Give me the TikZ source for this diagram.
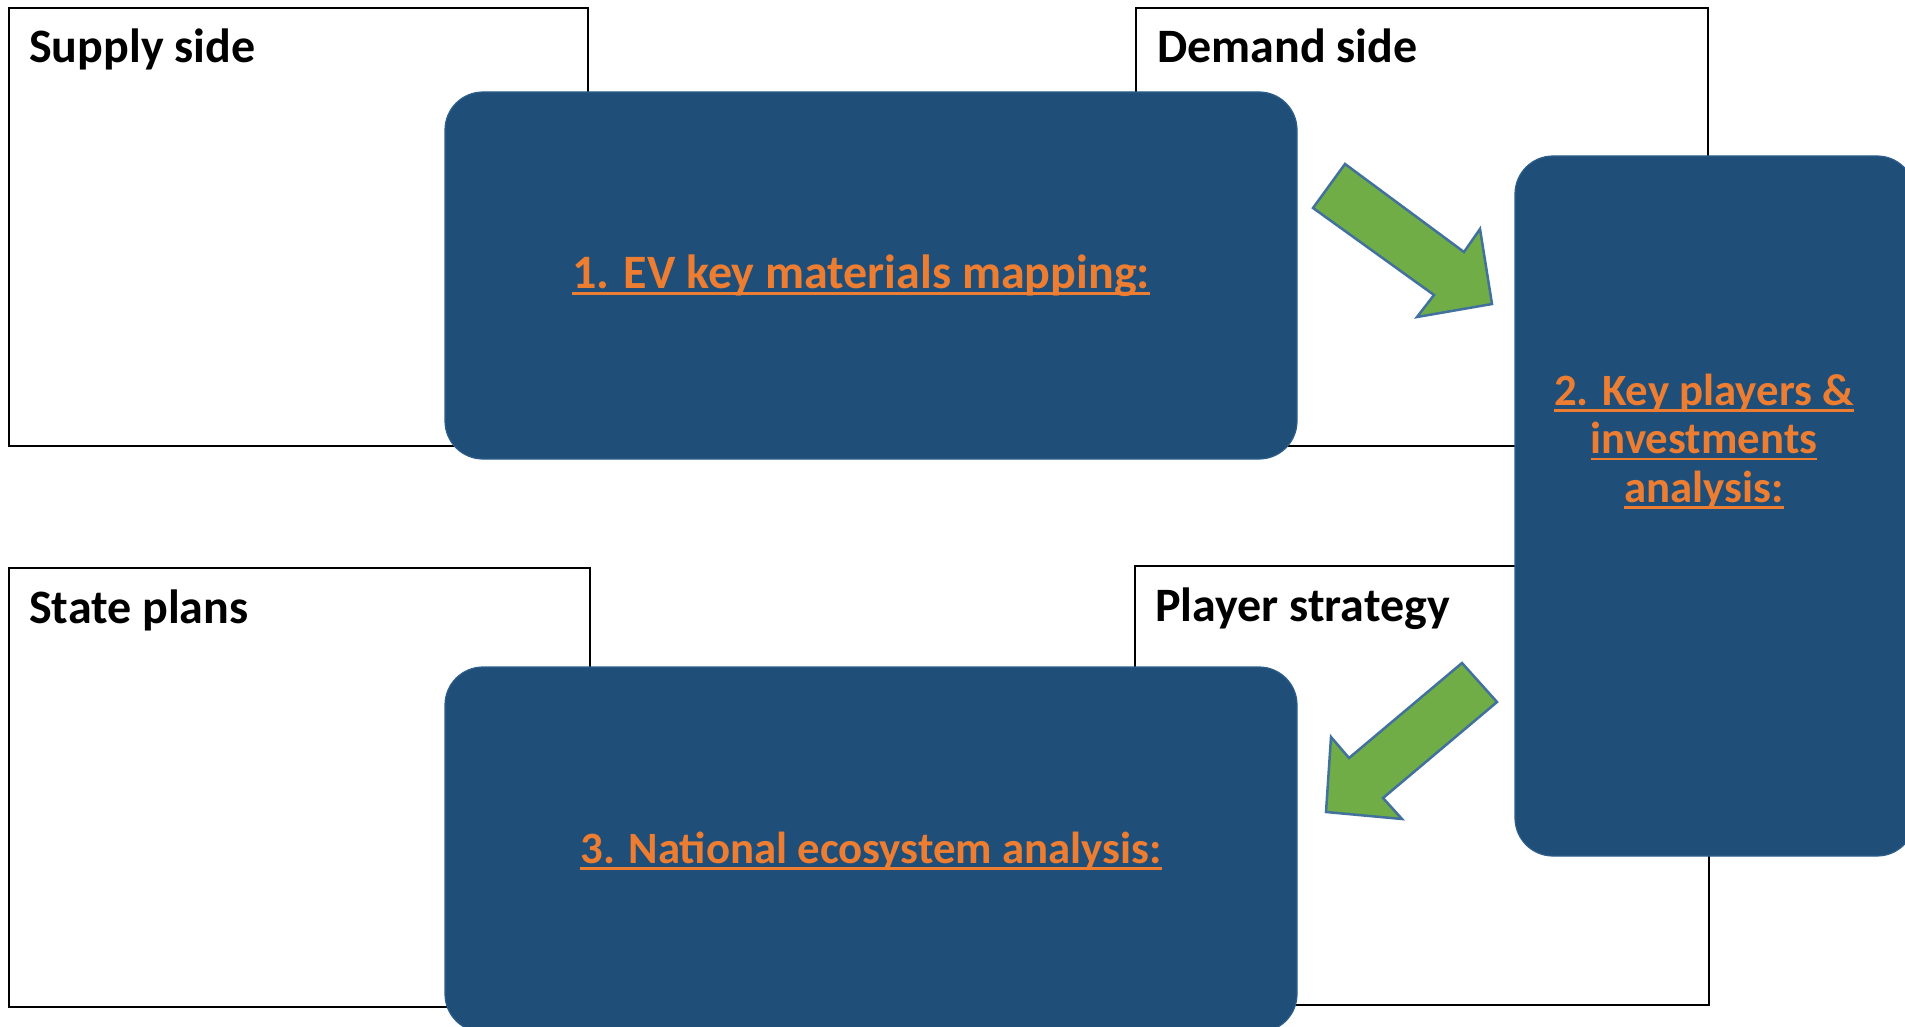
\documentclass[tikz,border=0pt]{standalone}
\usepackage{fontspec}
\setmainfont{Carlito}
\newcommand{\myul}[1]{\setbox0\hbox{#1}\rlap{\rule[-6.8pt]{\wd0}{2.6pt}}\box0}
\definecolor{boxblue}{HTML}{1F4E79}
\definecolor{boxedge}{HTML}{2E5F8C}
\definecolor{arrgreen}{HTML}{70AD47}
\definecolor{arredge}{HTML}{41719C}
\definecolor{txtorange}{HTML}{ED7D31}
\tikzset{
  framebox/.style={draw=black, line width=1.8pt, fill=white},
  bluebox/.style={draw=boxedge, line width=1.2pt, fill=boxblue, rounded corners=38pt, inner sep=0pt},
  sidelabel/.style={anchor=base west, inner sep=0pt, font=\fontsize{48}{49}\selectfont\bfseries, text=black},
  steptext/.style={anchor=base, inner sep=0pt, font=\fontsize{48}{49}\selectfont\bfseries, text=txtorange},
  steptextsmall/.style={steptext, font=\fontsize{44.8}{49}\selectfont\bfseries},
  blockarrow/.style={draw=arredge, line width=2.5pt, fill=arrgreen, line join=miter}
}
\begin{document}
\begin{tikzpicture}[x=1pt,y=-1pt]
\clip (0,0) rectangle (1905,1027);
\fill[white] (0,0) rectangle (1905,1027);
% frame boxes
\draw[framebox] (9,8) rectangle (588,446);
\draw[framebox] (1136,8) rectangle (1708,446);
\draw[framebox] (9,568) rectangle (590,1007);
\draw[framebox] (1135,566) rectangle (1709,1005);
\node[sidelabel] (l1) at (29,63) {Supply side};
\node[sidelabel] (l2) at (1157,63) {Demand side};
\node[sidelabel] (l3) at (29,623) {State plans};
\node[sidelabel] (l4) at (1155,621) {Player strategy};
% blue step boxes
\node[bluebox, minimum width=852pt, minimum height=367pt] (b1) at (871,275.5) {};
\node[bluebox, minimum width=400pt, minimum height=700pt] (b2) at (1715,506) {};
\node[bluebox, minimum width=852pt, minimum height=365pt] (b3) at (871,849.5) {};
\node[steptext] (t1) at (861,288) {\myul{1. EV key materials mapping:}};
\node[steptextsmall] (t2a) at (1704,405) {\myul{2. Key players \&}};
\node[steptextsmall] (t2b) at (1704,453.5) {\myul{investments}};
\node[steptextsmall] (t2c) at (1704,502) {\myul{analysis:}};
\node[steptextsmall] (t3) at (871,863) {\myul{3. National ecosystem analysis:}};
% green block arrows
\draw[blockarrow] (1345,164) -- (1464,252) -- (1480,229) -- (1492,304) -- (1417,317) -- (1434,295) -- (1313,208) -- cycle;
\draw[blockarrow] (1462,663) -- (1497,702) -- (1383,798) -- (1402,819) -- (1326,812) -- (1331,737) -- (1349,758) -- cycle;
\end{tikzpicture}
\end{document}
